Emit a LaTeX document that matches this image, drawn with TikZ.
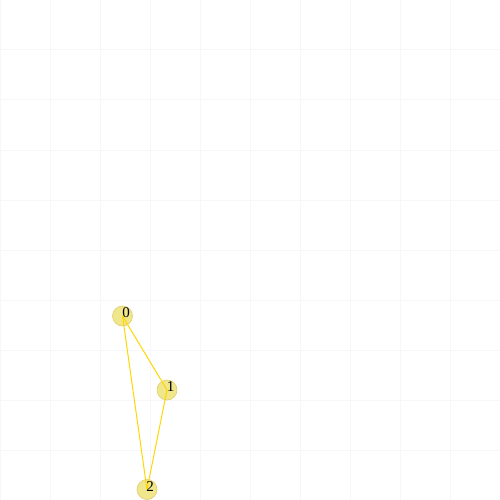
\documentclass[tikz,border=0pt]{standalone}
\usepackage{fontspec}
\setmainfont{Liberation Serif}
\definecolor{gridc}{HTML}{F6F6FB}
\definecolor{nodefill}{HTML}{F0E68C}
\definecolor{nodedraw}{HTML}{E2CC70}
\definecolor{edgec}{HTML}{FFD700}
\begin{document}
\begin{tikzpicture}[x=1pt,y=-1pt,
  vert/.style={circle,fill=nodefill,draw=nodedraw,line width=0.6pt,minimum size=20pt,inner sep=0pt},
  edge/.style={draw=edgec,line width=1pt},
  lbl/.style={font=\fontsize{15}{15}\selectfont,text=black,inner sep=0pt}]
\useasboundingbox (0,0) rectangle (500,500);
\fill[white] (0,0) rectangle (500,500);
\foreach \k in {0,50,...,500} {
  \draw[gridc,line width=1pt] (\k,0) -- (\k,500);
  \draw[gridc,line width=1pt] (0,\k) -- (500,\k);
}
\node[vert] (n0) at (122.5,316) {};
\node[vert] (n1) at (167,390) {};
\node[vert] (n2) at (147,489.5) {};
\path[edge] (n0.center) -- (n1.center);
\path[edge] (n0.center) -- (n2.center);
\path[edge] (n1.center) -- (n2.center);
\node[lbl] (l0) at (126,312.5) {0};
\node[lbl] (l1) at (170.5,386.5) {1};
\node[lbl] (l2) at (150,486.5) {2};
\end{tikzpicture}
\end{document}
